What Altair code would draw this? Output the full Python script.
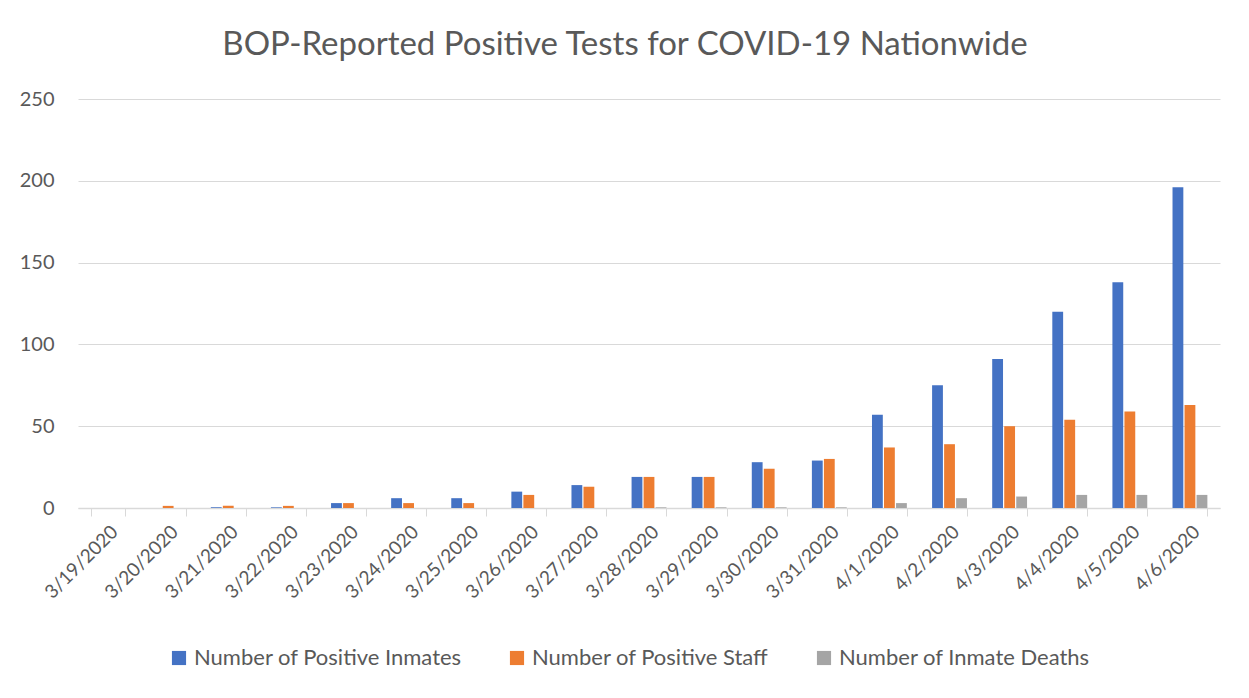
import altair as alt
import pandas as pd

dates = ["3/19/2020", "3/20/2020", "3/21/2020", "3/22/2020", "3/23/2020", "3/24/2020",
         "3/25/2020", "3/26/2020", "3/27/2020", "3/28/2020", "3/29/2020", "3/30/2020",
         "3/31/2020", "4/1/2020", "4/2/2020", "4/3/2020", "4/4/2020", "4/5/2020", "4/6/2020"]
inmates = [0, 0, 0.4, 0.4, 3, 6, 6, 10, 14, 19, 19, 28, 29, 57, 75, 91, 120, 138, 196]
staff = [0, 1.3, 1.3, 1.3, 3, 3, 3, 8, 13, 19, 19, 24, 30, 37, 39, 50, 54, 59, 63]
deaths = [0, 0, 0, 0, 0, 0, 0, 0, 0, 0.4, 0.4, 0.4, 0.4, 3, 6, 7, 8, 8, 8]

series = ["Number of Positive Inmates", "Number of Positive Staff", "Number of Inmate Deaths"]
colors = ["#4472C4", "#ED7D31", "#A5A5A5"]

rows = []
for i, d in enumerate(dates):
    for s, vals in zip(series, [inmates, staff, deaths]):
        rows.append({"date": d, "series": s, "value": vals[i]})
df = pd.DataFrame(rows)

FONT = "Lato"
TXT = "#595959"
GRID = "#D9D9D9"

chart = alt.Chart(df).mark_bar().encode(
    x=alt.X("date:N", sort=dates, title=None,
            scale=alt.Scale(paddingInner=0.42, paddingOuter=0.21),
            axis=alt.Axis(labelAngle=-45, labelFontSize=19, labelColor=TXT, labelFont=FONT,
                          tickBand="extent", tickColor=GRID, tickSize=8, domainColor=GRID,
                          domainWidth=1.5, labelPadding=6, grid=False)),
    xOffset=alt.XOffset("series:N", sort=series, scale=alt.Scale(paddingInner=0.1)),
    y=alt.Y("value:Q", title=None, scale=alt.Scale(domain=[0, 250], nice=False),
            axis=alt.Axis(values=[0, 50, 100, 150, 200, 250], labelFontSize=20, labelColor=TXT,
                          labelFont=FONT, domain=False, ticks=False, gridColor=GRID,
                          labelPadding=24, minExtent=70, maxExtent=70)),
    color=alt.Color("series:N", sort=series,
                    scale=alt.Scale(domain=series, range=colors),
                    legend=alt.Legend(title=None, orient="none", direction="horizontal",
                                      legendX=90, legendY=548,
                                      symbolType="square", symbolSize=200, symbolStrokeWidth=0,
                                      labelFontSize=22, labelColor=TXT, labelFont=FONT,
                                      columnPadding=44, labelLimit=400)),
).properties(
    width=1142, height=409,
    title=alt.TitleParams("BOP-Reported Positive Tests for COVID-19 Nationwide",
                          fontSize=33, font=FONT, color=TXT, fontWeight="normal", offset=27,
                          anchor="middle", frame="bounds", dx=11),
    padding={"left": 0, "top": 21, "right": 20, "bottom": 10},
).configure(background="white", view={"stroke": None})

chart.save("out.html", embed_options={"renderer": "svg", "actions": False})
